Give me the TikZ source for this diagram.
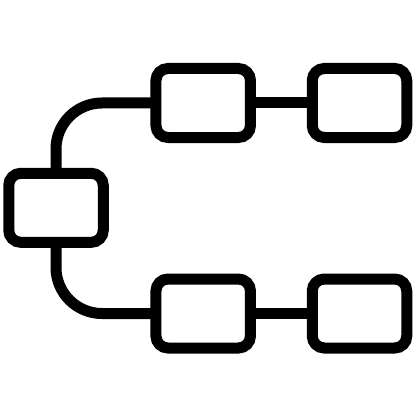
\documentclass[tikz,border=0pt]{standalone}
\begin{document}
\begin{tikzpicture}[x=1pt,y=-1pt,
  box/.style={draw=black,line width=11pt,rounded corners=12pt,minimum width=94.5pt,minimum height=69pt,inner sep=0pt,outer sep=0pt},
  link/.style={draw=black,line width=11pt}]
\useasboundingbox (0,0) rectangle (417,417);
\node[box] (L) at (56,207.8) {};
\node[box] (TM) at (203.2,103) {};
\node[box] (TR) at (359.5,103) {};
\node[box] (BM) at (203.2,313.5) {};
\node[box] (BR) at (359.5,313.5) {};
\draw[link,rounded corners=46pt] (L.north) |- (TM.west);
\draw[link,rounded corners=46pt] (L.south) |- (BM.west);
\draw[link] (TM.east) -- (TR.west);
\draw[link] (BM.east) -- (BR.west);
\end{tikzpicture}
\end{document}
